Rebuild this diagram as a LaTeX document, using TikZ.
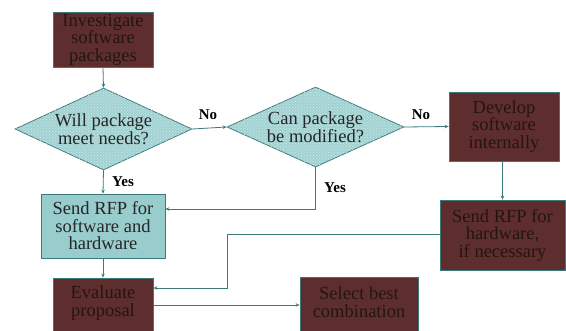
\documentclass[tikz,border=0pt]{standalone}
\usepackage{fontspec}
\setmainfont{Liberation Serif}
\usetikzlibrary{shapes.geometric,arrows.meta,patterns}
\definecolor{brownbox}{HTML}{5E2E2E}
\definecolor{browntext}{HTML}{24160A}
\definecolor{tealline}{HTML}{3C7A7A}
\definecolor{tealbox}{HTML}{99CCCC}
\definecolor{tealdia}{HTML}{A3D2D2}
\definecolor{tealdot}{HTML}{CBE8E8}
\tikzset{
  x=1pt, y=-1pt,
  base/.style={draw=tealline, line width=0.8pt, align=center, inner sep=0pt,
    font=\fontsize{18.5}{17.5}\selectfont},
  brownnode/.style={base, rectangle, fill=brownbox, text=browntext},
  tealnode/.style={base, rectangle, fill=tealbox, text=black!85},
  dianode/.style={draw=tealline, line width=0.8pt, fill=tealdia, diamond, inner sep=0pt,
    postaction={pattern=crosshatch dots, pattern color=tealdot}},
  diatext/.style={align=center, inner sep=0pt, text=black!85, font=\fontsize{18.5}{17.5}\selectfont},
  browntxt/.style={align=center, inner sep=0pt, text=browntext, font=\fontsize{18.5}{17.5}\selectfont},
  conn/.style={draw=tealline, line width=0.8pt, -{Stealth[length=4pt,width=3.5pt]}},
  lab/.style={font=\fontsize{15}{15}\bfseries\selectfont, inner sep=0pt}
}
\begin{document}
\begin{tikzpicture}
\clip (0,0) rectangle (566,331);
\fill[white] (0,0) rectangle (566,331);
% boxes
\node[brownnode, minimum width=100pt, minimum height=55pt] (inv) at (103,39.5) {Investigate\\software\\packages};
\node[dianode, minimum width=177pt, minimum height=82pt] (d1) at (103.5,129) {};
\node[diatext] (t1) at (d1.center) {Will package\\meet needs?};
\node[dianode, minimum width=177pt, minimum height=80pt] (d2) at (315.5,127) {};
\node[diatext] (t2) at (d2.center) {Can package\\be modified?};
\node[brownnode, minimum width=110pt, minimum height=69pt] (dev) at (504,126.5) {Develop\\software\\internally};
\node[tealnode, minimum width=124pt, minimum height=64pt] (sw) at (103,226) {Send RFP for\\software and\\hardware};
\node[brownnode, minimum width=125pt, minimum height=70pt] (hw) at (502.5,235) {Send RFP for\\hardware,\\if necessary};
\node[brownnode, minimum width=100pt, minimum height=56pt] (ev) at (103,306) {};
\node[browntxt] (evt) at (103,303) {Evaluate\\proposal};
\node[brownnode, minimum width=118pt, minimum height=56pt] (sel) at (359,305) {};
\node[browntxt] (selt) at (359,302) {Select best\\combination};
% connectors
\draw[conn] (inv.south) -- (d1.north);
\draw[conn] (d1.east) -- (d2.west);
\node[lab] (no1) at (208,115) {No};
\draw[conn] (d2.east) -- (dev.west);
\node[lab] (no2) at (421,115) {No};
\draw[conn] (dev.south -| hw.north) -- (hw.north);
\draw[conn] (d1.south) -- (sw.north);
\node[lab] (yes1) at (123,182) {Yes};
\draw[conn] (d2.south) -- (315.5,209) -- (sw.east |- 0,209);
\node[lab] (yes2) at (335,188) {Yes};
\draw[conn] (hw.west |- 0,234) -- (227,234) -- (227,288) -- (ev.east |- 0,288);
\draw[conn] (ev.east |- 0,305) -- (sel.west |- 0,305);
\draw[conn] (sw.south) -- (ev.north);
\end{tikzpicture}
\end{document}
